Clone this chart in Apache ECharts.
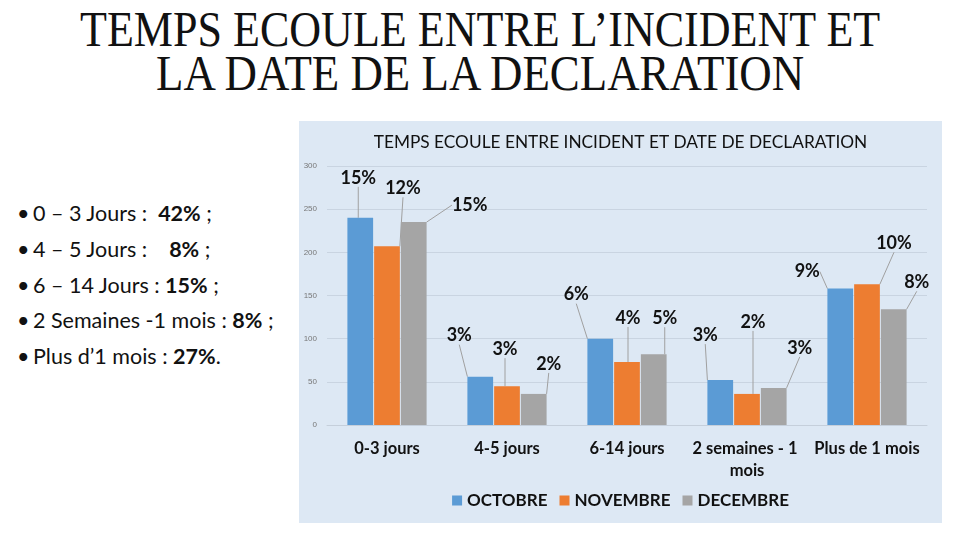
<!DOCTYPE html>
<html>
<head>
<meta charset="utf-8">
<script src="https://cdn.jsdelivr.net/npm/echarts@6/dist/echarts.min.js"></script>
<style>
  body { margin: 0; width: 960px; height: 540px; background: #ffffff; position: relative; overflow: hidden; }
  .title { position: absolute; left: 0; width: 960px; text-align: center; font-family: "Liberation Serif", serif; font-size: 50px; color: #111; line-height: 50px; white-space: nowrap; }
  .title span { display: inline-block; transform-origin: center; }
  .bullets { position: absolute; left: 17px; top: 197px; font-family: Lato, "Open Sans", sans-serif; font-size: 21.5px; color: #111; }
  .bullets div { height: 35.8px; line-height: 32px; white-space: nowrap; }
  .bullets i { font-style: normal; display: inline-block; width: 16px; }
  .bullets b { font-weight: 700; }
  #chart { position: absolute; left: 299px; top: 121px; width: 643px; height: 402px; }
</style>
</head>
<body>
<div class="title" id="t1" style="top:4px"><span>TEMPS ECOULE ENTRE L’INCIDENT ET</span></div>
<div class="title" id="t2" style="top:48px"><span>LA DATE DE LA DECLARATION</span></div>
<div class="bullets">
  <div><i>•</i>0 – 3 Jours :&nbsp; <b>42%</b> ;</div>
  <div><i>•</i>4 – 5 Jours :&nbsp;&nbsp;&nbsp; <b>8%</b> ;</div>
  <div><i>•</i>6 – 14 Jours : <b>15%</b> ;</div>
  <div><i>•</i>2 Semaines -1 mois : <b>8%</b> ;</div>
  <div><i>•</i>Plus d’1 mois : <b>27%</b>.</div>
</div>
<div id="chart"></div>
<script>
// condensed page title, fitted to the widths in the slide
[['t1', 800], ['t2', 648]].forEach(function (p) {
  var s = document.querySelector('#' + p[0] + ' span');
  s.style.transform = 'scaleX(' + (p[1] / s.offsetWidth) + ')';
});

var categories = ['0-3 jours', '4-5 jours', '6-14 jours', '2 semaines - 1 mois', 'Plus de 1 mois'];
var seriesNames = ['OCTOBRE', 'NOVEMBRE', 'DECEMBRE'];
var octobre = [240, 56, 100, 52, 158];
var novembre = [207, 45, 73, 36, 163];
var decembre = [235, 36, 82, 43, 134];
var pctOctobre = ['15%', '3%', '6%', '3%', '9%'];
var pctNovembre = ['12%', '3%', '4%', '2%', '10%'];
var pctDecembre = ['15%', '2%', '5%', '3%', '8%'];
var yTicks = [0, 50, 100, 150, 200, 250, 300];

// where each percentage label sits, relative to the top centre of its bar
var labelOffsets = [
  [[-2, -40], [-21, -41], [-24, -44], [-15, -45], [-33, -17]],
  [[16, -58], [-2, -37], [1, -44], [6, -72], [27, -41]],
  [[56, -17], [15, -30], [11, -36], [26, -40], [23, -27]]
];

var colors = ['#5b9bd5', '#ed7d31', '#a5a5a5'];
var values = [octobre, novembre, decembre];
var pcts = [pctOctobre, pctNovembre, pctDecembre];

var chart = echarts.init(document.getElementById('chart'));

var series = values.map(function (vals, si) {
  return {
    name: seriesNames[si],
    type: 'bar',
    data: vals,
    barGap: '4%',
    barCategoryGap: '34%',
    itemStyle: { color: colors[si] },
    label: {
      show: true,
      position: 'top',
      formatter: function (p) { return pcts[si][p.dataIndex]; },
      fontFamily: 'Lato',
      fontWeight: 'bold',
      fontSize: 18,
      color: '#111'
    },
    labelLine: {
      show: true,
      lineStyle: { color: '#a0a0a0', width: 1 }
    },
    labelLayout: function (params) {
      var off = labelOffsets[si][params.dataIndex];
      var r = params.rect;
      return {
        x: r.x + r.width / 2 + off[0],
        y: r.y + off[1],
        align: 'center',
        verticalAlign: 'middle'
      };
    }
  };
});

chart.setOption({
  backgroundColor: '#dde8f4',
  color: colors,
  animation: false,
  title: {
    text: 'TEMPS ECOULE ENTRE INCIDENT ET DATE DE DECLARATION',
    left: 'center',
    top: 8,
    textStyle: { fontFamily: 'Lato', fontWeight: 'normal', fontSize: 17.3, color: '#111' }
  },
  grid: { left: 28, right: 15, top: 45, bottom: 98 },
  legend: {
    data: seriesNames,
    bottom: 9,
    left: 'center',
    itemWidth: 10,
    itemHeight: 10,
    itemGap: 12,
    icon: 'rect',
    textStyle: { fontFamily: 'Lato', fontWeight: 'bold', fontSize: 17, color: '#111' }
  },
  xAxis: {
    type: 'category',
    data: categories,
    axisTick: { show: false },
    axisLine: { lineStyle: { color: '#c5cfdb' } },
    axisLabel: {
      interval: 0,
      margin: 13,
      fontFamily: 'Lato',
      fontWeight: 'bold',
      fontSize: 16.5,
      color: '#111',
      lineHeight: 22,
      width: 118,
      overflow: 'break'
    }
  },
  yAxis: {
    type: 'value',
    min: yTicks[0],
    max: yTicks[yTicks.length - 1],
    interval: 50,
    axisLine: { show: false },
    axisTick: { show: false },
    axisLabel: { fontSize: 8, color: '#777', margin: 10 },
    splitLine: { lineStyle: { color: '#c9d4e1' } }
  },
  series: series
});
</script>
</body>
</html>
